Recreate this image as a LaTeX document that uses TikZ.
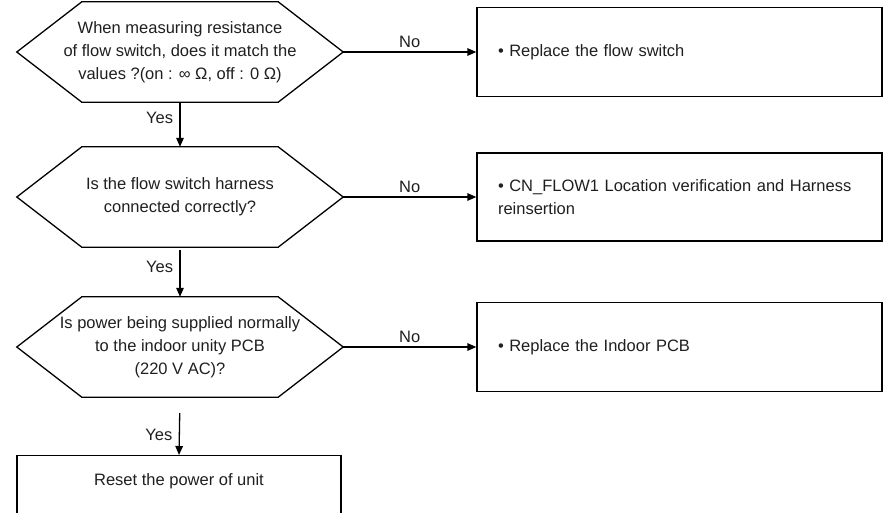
\documentclass[tikz,border=0pt]{standalone}
\usepackage{fontspec}
\setmainfont{Liberation Sans}
\usetikzlibrary{arrows.meta, calc}

% hexagonal outline round a decision node
\newcommand{\hexframe}[1]{%
  \draw[line width=1.3pt] ($(#1.north west)+(65,0)$) -- ($(#1.north east)+(-65,0)$)
    -- (#1.east) -- ($(#1.south east)+(-65,0)$) -- ($(#1.south west)+(65,0)$)
    -- (#1.west) -- cycle;}

\begin{document}
\begin{tikzpicture}[
    x=1pt, y=-1pt,
    every node/.style={font=\fontsize{16.5}{23}\selectfont, text=black!88},
    quest/.style={minimum width=326pt, minimum height=100pt, inner sep=0pt,
                  align=center},
    actbox/.style={draw, line width=1.3pt, minimum height=89pt, inner xsep=21pt,
                   text width=363pt, align=left},
    flow/.style={-{Triangle[length=9pt, width=7.5pt]}, line width=1.3pt},
    lbl/.style={font=\fontsize{16.5}{20}\selectfont}
  ]
  \useasboundingbox (0,0) rectangle (885,512);

  % decisions
  \node[quest] (q1) at (180,52)
    {When measuring resistance\\of flow switch, does it match the\\values ?(on : \char"221E\ \char"03A9, off : 0 \char"03A9)};
  \node[quest] (q2) at (180,197)
    {Is the flow switch harness\\connected correctly?};
  \node[quest] (q3) at (180,347)
    {Is power being supplied normally\\to the indoor unity PCB\\(220 V AC)?};
  \hexframe{q1}
  \hexframe{q2}
  \hexframe{q3}

  % actions
  \node[actbox] (fix1) at (679.5,52) {• Replace the flow switch};
  \node[actbox, minimum height=88pt] (fix2) at (679.5,197)
    {• CN\_FLOW1 Location verification and Harness\\reinsertion};
  \node[actbox] (fix3) at (679.5,347) {• Replace the Indoor PCB};
  \node[draw, line width=1.3pt, anchor=north, minimum width=324pt,
        inner ysep=18pt, text height=12pt, text depth=20pt] (reset) at (179,455)
    {Reset the power of unit};

  \draw[flow] (q1.east) -- (fix1.west) node[midway, above, lbl] {No};
  \draw[flow] (q2.east) -- (fix2.west) node[midway, above, lbl] {No};
  \draw[flow] (q3.east) -- (fix3.west) node[midway, above, lbl] {No};

  \draw[flow] (q1.south) -- (q2.north) node[pos=0.35, left, lbl, xshift=-3pt] {Yes};
  \draw[flow, shorten <=3pt] (q2.south) -- (q3.north) node[pos=0.4, left, lbl, xshift=-3pt] {Yes};
  \draw[flow, shorten <=16pt] (q3.south) -- (reset.north) node[pos=0.65, left, lbl, xshift=-3pt] {Yes};
\end{tikzpicture}
\end{document}
